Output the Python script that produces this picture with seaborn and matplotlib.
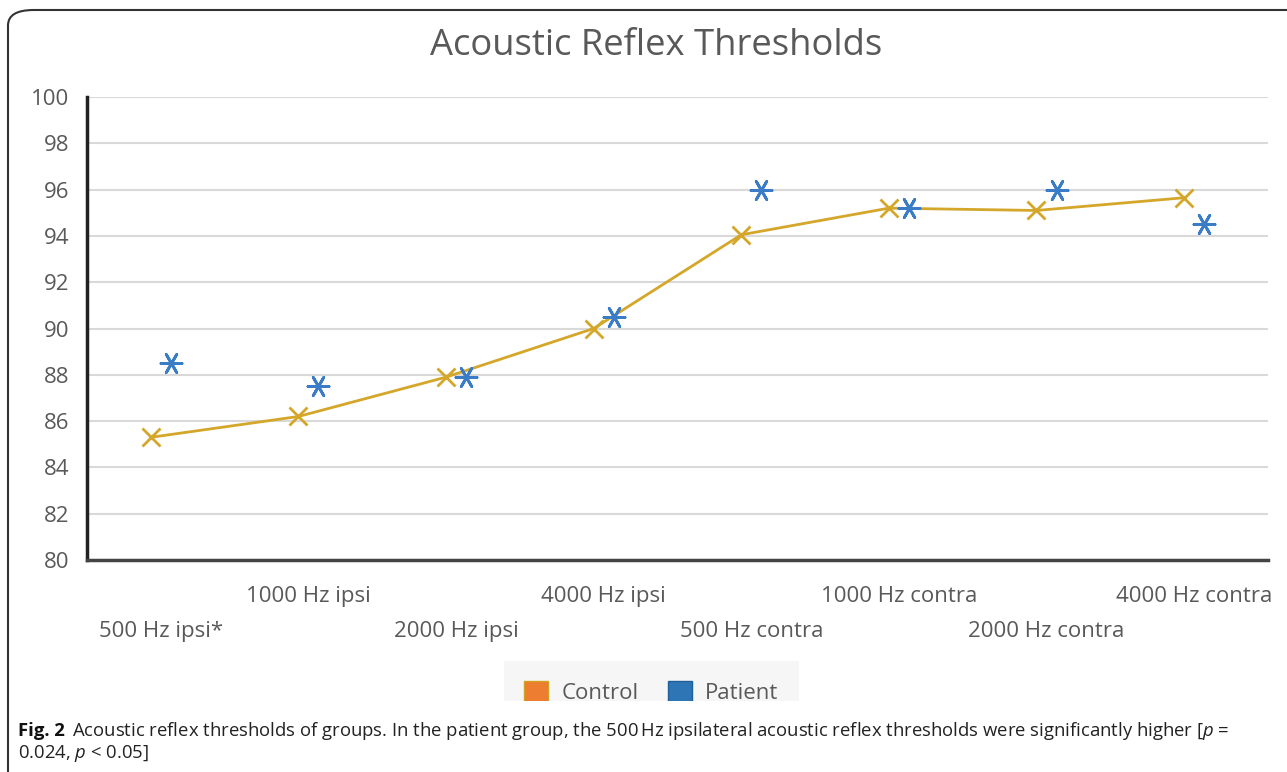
import pandas as pd
import matplotlib
matplotlib.use("Agg")
import matplotlib.pyplot as plt
import seaborn as sns
from matplotlib.patches import Patch, FancyBboxPatch, Rectangle

categories = ["500 Hz ipsi*", "1000 Hz ipsi", "2000 Hz ipsi", "4000 Hz ipsi",
              "500 Hz contra", "1000 Hz contra", "2000 Hz contra", "4000 Hz contra"]
control = [85.3, 86.2, 87.9, 90.0, 94.05, 95.2, 95.1, 95.65]
patient = [88.5, 87.5, 87.9, 90.5, 96.0, 95.2, 96.0, 94.5]

GOLD = "#D4A62A"
BLUE = "#3A7DC6"
GREY_TXT = "#595959"

n = len(categories)
df_c = pd.DataFrame({"pos": [i - 0.068 for i in range(n)], "value": control})
df_p = pd.DataFrame({"pos": [i + 0.068 for i in range(n)], "value": patient})

sns.set_theme(style="white")
plt.rcParams["font.family"] = ["Open Sans", "DejaVu Sans"]
plt.rcParams["mathtext.fontset"] = "custom"
plt.rcParams["mathtext.it"] = "Open Sans:italic"
plt.rcParams["mathtext.rm"] = "Open Sans"

fig = plt.figure(figsize=(12.87, 7.72), dpi=100)
ax = fig.add_axes([0.0676, 0.2746, 0.9176, 0.5997])

sns.lineplot(data=df_c, x="pos", y="value", ax=ax, color=GOLD, linewidth=2,
             marker="x", markersize=13, markeredgewidth=2, markeredgecolor=GOLD)
# six-spoke star with a horizontal bar, like the spreadsheet marker
sns.scatterplot(data=df_p, x="pos", y="value", ax=ax, color=BLUE,
                marker=(6, 2, 90), s=230, linewidth=2, edgecolor=BLUE, zorder=3)

ax.set_xlim(-0.5, n - 0.5)
ax.set_ylim(80, 100)
ax.set_yticks(range(80, 101, 2))
ax.yaxis.grid(True, color="#d9d9d9", linewidth=1.5)
ax.set_axisbelow(True)
ax.set_xticks(range(n))
ax.set_xticklabels(categories)
ax.set_xlabel("")
ax.set_ylabel("")
ax.tick_params(axis="both", length=0, labelsize=16, labelcolor=GREY_TXT)
ax.tick_params(axis="y", pad=13)
for i, t in enumerate(ax.xaxis.get_major_ticks()):
    t.set_pad(44 if i % 2 == 0 else 19)

for s in ["top", "right"]:
    ax.spines[s].set_visible(False)
ax.spines["left"].set_color("#222222")
ax.spines["left"].set_linewidth(2.5)
ax.spines["bottom"].set_color("#444444")
ax.spines["bottom"].set_linewidth(2.5)

fig.text(0.51, 0.94, "Acoustic Reflex Thresholds", ha="center", va="center",
         fontsize=26.2, color=GREY_TXT)

handles = [Patch(facecolor="#ED7D31", edgecolor="#D4A020", label="Control"),
           Patch(facecolor="#2E75B6", edgecolor="#1F5F9A", label="Patient")]
leg = fig.legend(handles=handles, loc="center", bbox_to_anchor=(0.506, 0.103),
                 ncol=2, frameon=True, fontsize=16, handlelength=1.1,
                 handleheight=1.1, columnspacing=1.3, handletextpad=0.6,
                 borderpad=0.9, fancybox=False)
leg.get_frame().set_facecolor("#f4f4f4")
leg.get_frame().set_edgecolor("none")
leg.set_zorder(1)
for t in leg.get_texts():
    t.set_color(GREY_TXT)

# white caption area that trims the bottom of the legend box
fig.patches.append(Rectangle((9 / 1287, 0), 1, 1 - 701 / 772,
                             transform=fig.transFigure, facecolor="white",
                             edgecolor="none", zorder=2))

# caption
fig.text(18 / 1287, 1 - 731 / 772, "Fig. 2", fontsize=13.3, fontweight="bold",
         color="#111111", va="center", zorder=5)
fig.text(72 / 1287, 1 - 731 / 772,
         "Acoustic reflex thresholds of groups. In the patient group, the 500\u2009Hz ipsilateral "
         "acoustic reflex thresholds were significantly higher [$\\it{p}$ =",
         fontsize=13.3, color="#222222", va="center", zorder=5)
fig.text(18 / 1287, 1 - 753 / 772, "0.024, $\\it{p}$ < 0.05]", fontsize=13.3,
         color="#222222", va="center", zorder=5)

# rounded frame around the figure panel
frame = FancyBboxPatch((8 / 1287, -0.05), 1.2, 1 - 10 / 772 + 0.05,
                       boxstyle="round,pad=0,rounding_size=0.02",
                       transform=fig.transFigure, facecolor="none",
                       edgecolor="#333333", linewidth=1.5, clip_on=False,
                       zorder=6)
fig.patches.append(frame)

fig.savefig("out.png", dpi=100)
